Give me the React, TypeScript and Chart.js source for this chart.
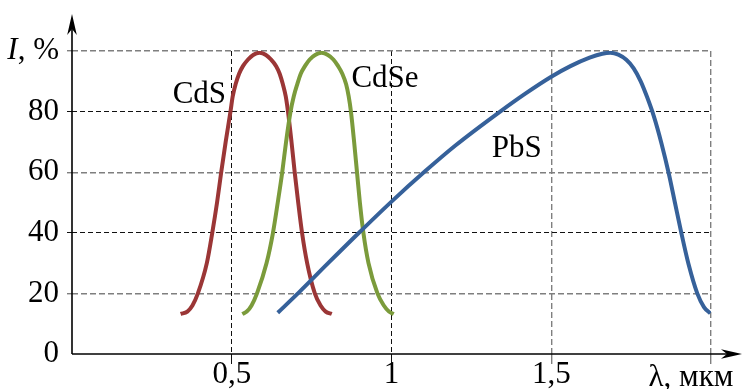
import React, { useEffect, useRef } from "react";
import { Chart, registerables } from "chart.js";

Chart.register(...registerables);

// ---- data ----
const cdsX = [0.34, 0.361, 0.377, 0.394, 0.422, 0.439, 0.454, 0.467, 0.481, 0.496, 0.503, 0.512, 0.523, 0.535, 0.551, 0.567, 0.587, 0.607, 0.623, 0.639, 0.65, 0.66, 0.669, 0.676, 0.687, 0.697, 0.708, 0.72, 0.736, 0.76, 0.778, 0.794, 0.813];
const cdsY = [13.2, 14, 16, 20, 30, 40, 50, 60, 70, 80, 85, 89, 92.5, 95, 97.2, 98.7, 99.4, 98.7, 97.2, 95, 92.5, 89, 85, 80, 70, 60, 50, 40, 30, 20, 16, 14, 13.2];

const cdseX = [0.533, 0.547, 0.562, 0.579, 0.609, 0.629, 0.644, 0.658, 0.67, 0.684, 0.694, 0.705, 0.716, 0.729, 0.744, 0.761, 0.781, 0.801, 0.818, 0.833, 0.846, 0.858, 0.866, 0.873, 0.883, 0.892, 0.901, 0.912, 0.928, 0.956, 0.976, 0.992, 1.007];
const cdseY = [13.2, 14, 16, 20, 30, 40, 50, 60, 70, 80, 85, 89, 92.5, 95, 97.2, 98.7, 99.4, 98.7, 97.2, 95, 92.5, 89, 85, 80, 70, 60, 50, 40, 30, 20, 16, 14, 13.2];

const pbsX = [0.644, 0.712, 0.8, 0.903, 1.0, 1.104, 1.2, 1.34, 1.42, 1.5, 1.56, 1.62, 1.66, 1.685, 1.71, 1.735, 1.758, 1.78, 1.8, 1.821, 1.845, 1.868, 1.887, 1.906, 1.93, 1.957, 1.978, 1.998];
const pbsY = [13.6, 20.5, 29.8, 40.5, 50.3, 60.2, 68.8, 80, 86, 91.5, 95, 97.8, 99.1, 99.4, 98.8, 97.1, 94.3, 90, 84.8, 78.5, 69.5, 59.5, 50, 40.5, 29.5, 20, 15.5, 13.4];

const seriesNames = ["CdS", "CdSe", "PbS"];
const xTickValues = [0, 0.5, 1, 1.5, 2];
const xTickLabels = ["", "0,5", "1", "1,5", ""];
const yTickValues = [0, 20, 40, 60, 80, 100];
const yTickLabels = ["0", "20", "40", "60", "80", ""];
const xAxisTitle = "λ, мкм";
const yAxisTitleItalic = "I";
const yAxisTitleRest = ", %";

// label anchors in data coordinates (left, baseline)
const seriesLabelAnchors = [
  { x: 0.315, y: 82.7 },
  { x: 0.8745, y: 88.2 },
  { x: 1.3137, y: 65.1 },
];

const FONT = '"Liberation Serif", serif';
const FS = 31;

const toPts = (xs: number[], ys: number[]) => xs.map((x, i) => ({ x, y: ys[i] }));

const darkGrid = (v: number, axis: "x" | "y") =>
  axis === "x" ? v === 0.5 || v === 1 : v === 80 || v === 40;

function arrowHead(ctx: CanvasRenderingContext2D, tipX: number, tipY: number, dir: "up" | "right") {
  const len = 21, half = 4.8, notch = 6;
  ctx.beginPath();
  if (dir === "up") {
    ctx.moveTo(tipX, tipY);
    ctx.lineTo(tipX + half, tipY + len);
    ctx.lineTo(tipX, tipY + len - notch);
    ctx.lineTo(tipX - half, tipY + len);
  } else {
    ctx.moveTo(tipX, tipY);
    ctx.lineTo(tipX - len, tipY - half);
    ctx.lineTo(tipX - len + notch, tipY);
    ctx.lineTo(tipX - len, tipY + half);
  }
  ctx.closePath();
  ctx.fill();
}

const overlayPlugin = {
  id: "overlay",
  afterDatasetsDraw(chart: any) {
    const { ctx, scales } = chart;
    const xs = scales.x, ys = scales.y;
    const x0 = xs.getPixelForValue(0);
    const y0 = ys.getPixelForValue(0);
    ctx.save();
    ctx.strokeStyle = "#000";
    ctx.fillStyle = "#000";
    ctx.lineWidth = 1.6;
    // y axis
    ctx.beginPath();
    ctx.moveTo(x0, y0);
    ctx.lineTo(x0, 20);
    ctx.stroke();
    arrowHead(ctx, x0, 14, "up");
    // x axis
    ctx.beginPath();
    ctx.moveTo(x0, y0);
    ctx.lineTo(735, y0);
    ctx.stroke();
    arrowHead(ctx, 742, y0, "right");

    // series labels
    ctx.font = `${FS}px ${FONT}`;
    ctx.textAlign = "left";
    ctx.textBaseline = "alphabetic";
    seriesNames.forEach((n, i) => {
      const a = seriesLabelAnchors[i];
      ctx.fillText(n, xs.getPixelForValue(a.x), ys.getPixelForValue(a.y));
    });

    // y axis title at the 100 tick
    const yt = ys.getPixelForValue(100);
    ctx.textBaseline = "middle";
    ctx.textAlign = "right";
    const rightEdge = x0 - 13;
    ctx.fillText(yAxisTitleRest, rightEdge, yt);
    const wRest = ctx.measureText(yAxisTitleRest).width;
    ctx.font = `italic ${FS}px ${FONT}`;
    ctx.fillText(yAxisTitleItalic, rightEdge - wRest, yt);

    // x axis title at the 2 tick
    ctx.font = `${FS}px ${FONT}`;
    ctx.textAlign = "center";
    ctx.textBaseline = "alphabetic";
    ctx.fillText(xAxisTitle, xs.getPixelForValue(2) - 20, 386);
    ctx.restore();
  },
};

export default function App() {
  const ref = useRef<HTMLCanvasElement | null>(null);
  useEffect(() => {
    if (!ref.current) return;
    const mk = (name: string, xs: number[], ys: number[], color: string) => ({
      label: name,
      data: toPts(xs, ys),
      borderColor: color,
      backgroundColor: color,
      borderWidth: 4,
      pointRadius: 0,
      fill: false,
      cubicInterpolationMode: "monotone" as const,
      borderCapStyle: "butt" as const,
      borderJoinStyle: "round" as const,
    });
    const chart = new Chart(ref.current, {
      type: "line",
      data: {
        datasets: [
          mk(seriesNames[2], pbsX, pbsY, "#36619a"),
          mk(seriesNames[1], cdseX, cdseY, "#7b9b3b"),
          mk(seriesNames[0], cdsX, cdsY, "#9b3636"),
        ],
      },
      options: {
        animation: false,
        responsive: false,
        maintainAspectRatio: false,
        font: { family: FONT, size: FS },
        layout: { padding: { left: 0, top: 51, right: 32, bottom: 0 } },
        plugins: { legend: { display: false }, tooltip: { enabled: false } },
        scales: {
          x: {
            type: "linear",
            min: 0,
            max: 2,
            afterBuildTicks: (s: any) => {
              s.ticks = xTickValues.map((v) => ({ value: v }));
            },
            afterFit: (s: any) => {
              s.height = 35;
            },
            ticks: {
              autoSkip: false,
              maxRotation: 0,
              padding: -8,
              color: "#000",
              font: { family: FONT, size: FS },
              callback: (v: any) => {
                const i = xTickValues.indexOf(Number(v));
                return i >= 0 ? xTickLabels[i] : "";
              },
            },
            grid: {
              drawOnChartArea: true,
              drawTicks: true,
              tickLength: 10,
              lineWidth: (c: any) => (darkGrid(c.tick?.value, "x") ? 1 : 1.4),
              color: (c: any) =>
                c.tick?.value === 0 ? "rgba(0,0,0,0)" : darkGrid(c.tick?.value, "x") ? "#111" : "#7f7f7f",
            },
            border: {
              display: false,
              dash: (c: any) => (darkGrid(c.tick?.value, "x") ? [5, 3] : [6, 3]),
            } as any,
          },
          y: {
            type: "linear",
            min: 0,
            max: 100,
            afterBuildTicks: (s: any) => {
              s.ticks = yTickValues.map((v) => ({ value: v }));
            },
            afterFit: (s: any) => {
              s.width = 72;
            },
            ticks: {
              autoSkip: false,
              padding: 8,
              color: "#000",
              font: { family: FONT, size: FS },
              callback: (v: any) => {
                const i = yTickValues.indexOf(Number(v));
                return i >= 0 ? yTickLabels[i] : "";
              },
            },
            grid: {
              drawOnChartArea: true,
              drawTicks: true,
              tickLength: 5,
              lineWidth: (c: any) => (darkGrid(c.tick?.value, "y") ? 1 : 1.4),
              color: (c: any) =>
                c.tick?.value === 0 ? "rgba(0,0,0,0)" : darkGrid(c.tick?.value, "y") ? "#111" : "#7f7f7f",
            },
            border: {
              display: false,
              dash: (c: any) => (darkGrid(c.tick?.value, "y") ? [5, 3] : [6, 3]),
            } as any,
          },
        },
      } as any,
      plugins: [overlayPlugin],
    });
    return () => chart.destroy();
  }, []);
  return (
    <div style={{ position: "fixed", left: 0, top: 0, width: 743, height: 389, background: "#fff" }}>
      <canvas ref={ref} width={743} height={389} style={{ display: "block", width: 743, height: 389 }} />
    </div>
  );
}
